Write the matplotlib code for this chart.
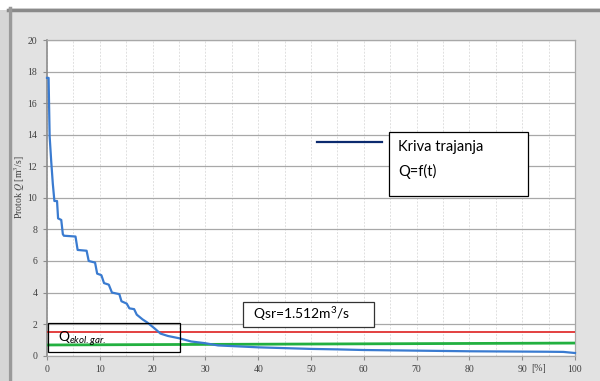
import matplotlib
matplotlib.use("Agg")
import matplotlib.pyplot as plt
from matplotlib.patches import Rectangle
from matplotlib.lines import Line2D

# duration curve Q = f(t)
t_pct = [0, 0.3, 0.5, 0.8, 1.1, 1.4, 1.9, 2.1, 2.7, 3.0, 3.2, 5.4, 5.8, 7.5, 7.9,
         9.1, 9.5, 10.3, 10.8, 11.7, 12.3, 13.7, 14.1, 15.1, 15.6, 16.5, 17.0,
         18.1, 19.0, 20.3, 21.5, 22.9, 25.1, 27.3, 29.8, 32.4, 35.6, 40, 45, 50,
         55, 60, 65, 70, 75, 80, 85, 90, 95, 97.8, 100]
q_flow = [17.6, 17.6, 13.9, 12.3, 10.9, 9.8, 9.8, 8.7, 8.6, 7.7, 7.6, 7.55, 6.7,
          6.65, 6.0, 5.9, 5.2, 5.1, 4.6, 4.5, 4.0, 3.9, 3.45, 3.3, 3.0, 2.95, 2.6,
          2.3, 2.1, 1.75, 1.4, 1.25, 1.1, 0.9, 0.8, 0.65, 0.6, 0.53, 0.48, 0.43,
          0.4, 0.36, 0.34, 0.32, 0.3, 0.28, 0.27, 0.26, 0.25, 0.24, 0.17]

q_sr = 1.512
eco_x = [0, 100]
eco_q = [0.68, 0.8]

BLUE = "#3a7bd0"
RED = "#e03232"
GREEN = "#22b040"
NAVY = "#0b2a6e"
GRIDC = "#a8a8a8"
TICKC = "#404040"

plt.rcParams["mathtext.fontset"] = "custom"
plt.rcParams["mathtext.rm"] = "Lato"
plt.rcParams["mathtext.it"] = "Lato:italic"

fig = plt.figure(figsize=(6.0, 3.81), dpi=100)
fig.patch.set_facecolor("white")

W, H = 600, 381
# outer grey frame with darker top/left edge
fig.patches.append(Rectangle((0, 0), 8 / W, 1 - 10 / H, transform=fig.transFigure,
                             facecolor="#d6d6d6", edgecolor="none", zorder=-10))
fig.patches.append(Rectangle((8 / W, 0), 1, 1 - 8 / H, transform=fig.transFigure,
                             facecolor="#e2e2e2", edgecolor="none", zorder=-10))
fig.lines.append(Line2D([8 / W, 1], [1 - 9.5 / H, 1 - 9.5 / H], transform=fig.transFigure,
                        color="#8a8a8a", linewidth=2.5, zorder=-5))
fig.lines.append(Line2D([9.5 / W, 9.5 / W], [0, 1 - 8 / H], transform=fig.transFigure,
                        color="#9a9a9a", linewidth=2.5, zorder=-5))

ax = fig.add_axes([47 / W, 1 - 355.7 / H, 528 / W, 315.7 / H])
ax.set_facecolor("white")
ax.set_xlim(0, 100)
ax.set_ylim(0, 20)

ax.set_yticks(range(0, 21, 2))
ax.set_xticks(range(0, 101, 10))
ax.set_xticks(range(0, 101, 5), minor=True)
ax.grid(True, axis="y", which="major", color=GRIDC, linewidth=0.9)
ax.grid(True, axis="x", which="both", color="#e0e0e0", linewidth=0.7, linestyle=(0, (2, 1.5)))
ax.set_axisbelow(True)

for s in ax.spines.values():
    s.set_color(GRIDC)
    s.set_linewidth(0.9)
ax.spines["left"].set_color("#8c8c8c")
ax.spines["left"].set_linewidth(1.2)
ax.tick_params(which="major", direction="out", length=3, color="#8c8c8c",
               labelsize=7, labelcolor=TICKC, pad=4)
ax.tick_params(which="minor", length=0)
for lab in ax.get_xticklabels() + ax.get_yticklabels():
    lab.set_fontfamily("Liberation Serif")

# lines
ax.axhline(q_sr, color=RED, linewidth=1.3, zorder=3)
ax.plot(eco_x, eco_q, color=GREEN, linewidth=2.0, zorder=3)
ax.plot(t_pct, q_flow, color=BLUE, linewidth=1.6, zorder=4, clip_on=False)

# annotation boxes
ax.add_patch(Rectangle((0.2, 0.25), 24.9, 1.85, fill=False, edgecolor="black",
                       linewidth=0.9, zorder=5))
ax.text(2.0, 1.05, r"Q$_{\mathit{ekol.gar.}}$", fontsize=10, family="Lato",
        va="center", ha="left", zorder=6)

ax.add_patch(Rectangle((37.1, 1.84), 24.8, 1.59, facecolor="white", edgecolor="#333333",
                       linewidth=0.9, zorder=5))
ax.text(39.1, 2.62, r"Qsr=1.512m$^3$/s", fontsize=10, family="Lato",
        va="center", ha="left", zorder=6)

ax.add_patch(Rectangle((64.7, 10.14), 26.4, 4.02, facecolor="white", edgecolor="black",
                       linewidth=0.9, zorder=5))
ax.plot([51.2, 63.4], [13.52, 13.52], color=NAVY, linewidth=1.6, zorder=6)
ax.text(66.5, 13.2, "Kriva trajanja", fontsize=10.5, family="Lato", va="center",
        ha="left", zorder=6)
ax.text(66.5, 11.65, "Q=f(t)", fontsize=10.5, family="Lato", va="center",
        ha="left", zorder=6)

ax.text(93.2, -0.55, "[%]", fontsize=7, family="Liberation Serif", color=TICKC,
        ha="center", va="top")

fig.text(20 / W, 1 - 187 / H, r"Protok $Q$ [m$^3$/s]", rotation=90, fontsize=7,
         family="Liberation Serif", math_fontfamily="stix", color=TICKC,
         ha="center", va="center")

fig.savefig("out.png", dpi=100, facecolor=fig.get_facecolor())
